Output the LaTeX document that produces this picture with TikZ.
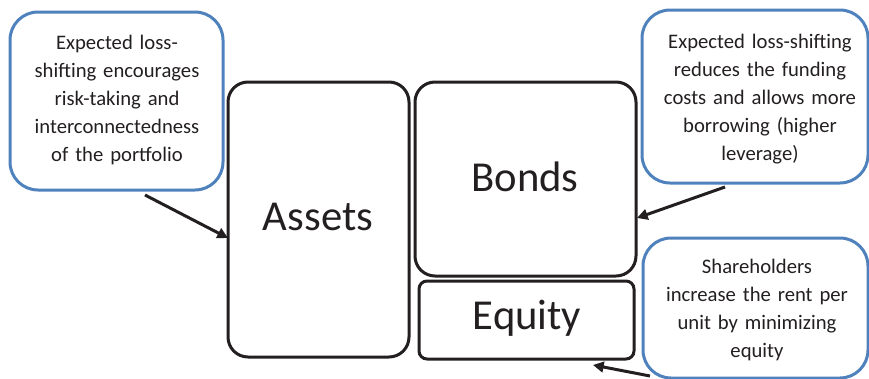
\documentclass[tikz,border=0pt]{standalone}
\usepackage{fontspec}
\setmainfont{Carlito}
\usetikzlibrary{arrows.meta}
\definecolor{cblue}{HTML}{4F81BD}
\definecolor{cblack}{HTML}{231F20}
\begin{document}
\begin{tikzpicture}[x=0.75pt,y=-0.75pt,
  acct/.style={draw=cblack,line width=2.25pt,rounded corners=15pt,inner sep=0pt,font=\fontsize{32}{36}\selectfont,text=cblack},
  callout/.style={draw=cblue,line width=2.25pt,rounded corners=21pt,inner sep=0pt,align=center,font=\fontsize{15.5}{21}\selectfont,text=cblack},
  arr/.style={draw=cblack,line width=2.25pt,-{Triangle[length=8pt,width=8pt]}}]
\useasboundingbox (0,0) rectangle (869,379);
\node[acct,minimum width=135.75pt,minimum height=206.25pt] (assets) at (318.5,219.5) {};
\node[font=\fontsize{32}{36}\selectfont,text=cblack] (assetsT) at (318,217) {Assets};
\node[acct,minimum width=165.75pt,minimum height=145.5pt] (bonds) at (525.5,179) {};
\node[font=\fontsize{32}{36}\selectfont,text=cblack] (bondsT) at (525,177) {Bonds};
\node[acct,rounded corners=6pt,minimum width=161.25pt,minimum height=58.5pt] (equity) at (526.5,320) {};
\node[font=\fontsize{32}{36}\selectfont,text=cblack] (equityT) at (527,318) {Equity};
\node[callout,minimum width=159.75pt,minimum height=133.5pt] (c1) at (116.5,101) {};
\node[callout,draw=none,text width=159pt] (c1T) at (117,99.5) {Expected loss-\\shifting encourages\\risk-taking and\\interconnectedness\\of the portfolio};
\node[callout,minimum width=169.5pt,minimum height=129.75pt] (c2) at (755,96.5) {};
\node[callout,draw=none,text width=165pt] (c2T) at (760,99.5) {Expected loss-shifting\\reduces the funding\\costs and allows more\\borrowing (higher\\leverage)};
\node[callout,minimum width=168.75pt,minimum height=105pt] (c3) at (755.5,308) {};
\node[callout,draw=none,text width=165pt] (c3T) at (757,310) {Shareholders\\increase the rent per\\unit by minimizing\\equity};
\coordinate (a1s) at (145,195);
\coordinate (a1e) at (228,238);
\coordinate (a2s) at (725,187);
\coordinate (a2e) at (637,218);
\coordinate (a3s) at (650,376);
\coordinate (a3e) at (593,365);
\draw[arr] (a1s) -- (a1e);
\draw[arr] (a2s) -- (a2e);
\draw[arr] (a3s) -- (a3e);
\end{tikzpicture}
\end{document}
